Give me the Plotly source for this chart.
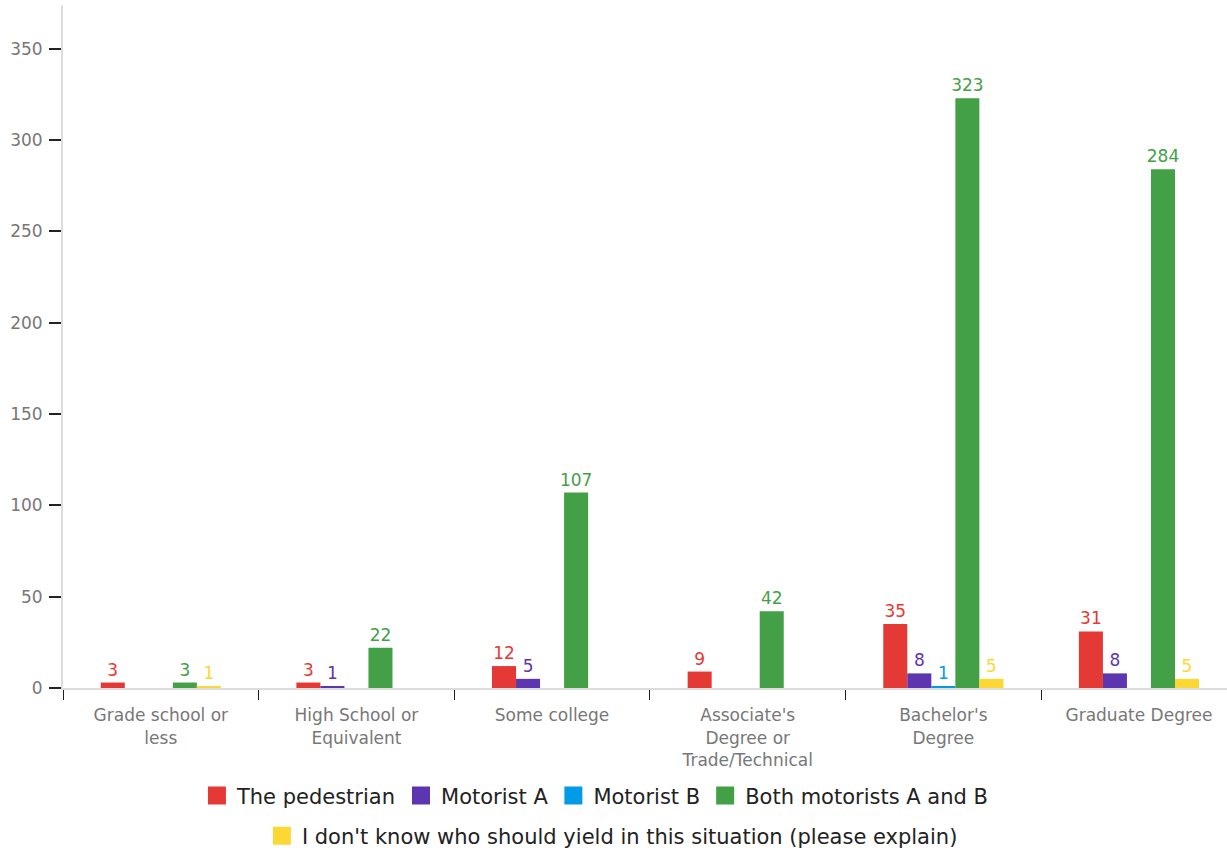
import plotly.graph_objects as go

categories = [
    "Grade school or<br>less",
    "High School or<br>Equivalent",
    "Some college",
    "Associate's<br>Degree or<br>Trade/Technical",
    "Bachelor's<br>Degree",
    "Graduate Degree",
]

pedestrian = [3, 3, 12, 9, 35, 31]
motorist_a = [None, 1, 5, None, 8, 8]
motorist_b = [None, None, None, None, 1, None]
both_motorists = [3, 22, 107, 42, 323, 284]
dont_know = [1, None, None, None, 5, 5]

series = [
    ("The pedestrian", pedestrian, "#E53935", "legend"),
    ("Motorist A", motorist_a, "#5E35B1", "legend"),
    ("Motorist B", motorist_b, "#039BE5", "legend"),
    ("Both motorists A and B", both_motorists, "#43A047", "legend"),
    ("I don't know who should yield in this situation (please explain)", dont_know, "#FDD835", "legend2"),
]

FONT = "DejaVu Sans, Arial, sans-serif"

fig = go.Figure()
for name, vals, color, leg in series:
    fig.add_trace(go.Bar(
        name=name,
        x=categories,
        y=vals,
        marker=dict(color=color, line=dict(width=0)),
        text=[("" if v is None else str(v)) for v in vals],
        textposition="outside",
        constraintext="none",
        textfont=dict(color=color, size=17, family=FONT),
        cliponaxis=False,
        showlegend=False,
    ))
    # legend key with a larger square swatch
    fig.add_trace(go.Scatter(
        name=name,
        x=[None],
        y=[None],
        mode="markers",
        marker=dict(symbol="square", size=16, color=color, line=dict(width=2, color=color)),
        legend=leg,
        showlegend=True,
        hoverinfo="skip",
    ))

fig.update_layout(
    width=1227,
    height=851,
    barmode="group",
    bargap=0.386,
    bargroupgap=0,
    plot_bgcolor="white",
    paper_bgcolor="white",
    font=dict(family=FONT, size=17, color="#777777"),
    margin=dict(l=63, r=0, t=5, b=163, autoexpand=False),
    showlegend=True,
    legend=dict(
        orientation="h", x=0.457, xanchor="center", y=-0.128, yanchor="top",
        font=dict(size=21, color="#222222", family=FONT),
        traceorder="normal", itemwidth=30,
    ),
    legend2=dict(
        orientation="h", x=0.472, xanchor="center", y=-0.187, yanchor="top",
        font=dict(size=21, color="#222222", family=FONT),
        itemwidth=30,
    ),
)

fig.update_xaxes(
    range=[-0.5, 5.45],
    showline=True, linecolor="#DDDDDD", linewidth=2,
    ticks="outside", tickson="boundaries", ticklen=10, tickcolor="#222222", tickwidth=1,
    ticklabelstandoff=11,
    tickfont=dict(size=17, color="#777777"),
    showgrid=False,
)
fig.update_yaxes(
    range=[0, 374], showline=True, linecolor="#DDDDDD", linewidth=2,
    ticks="outside", ticklen=12, tickcolor="#222222", tickwidth=2,
    ticklabelstandoff=3,
    tickvals=[0, 50, 100, 150, 200, 250, 300, 350],
    tickfont=dict(size=17, color="#777777"),
    showgrid=False, zeroline=False,
)

fig.write_html("out.html")
